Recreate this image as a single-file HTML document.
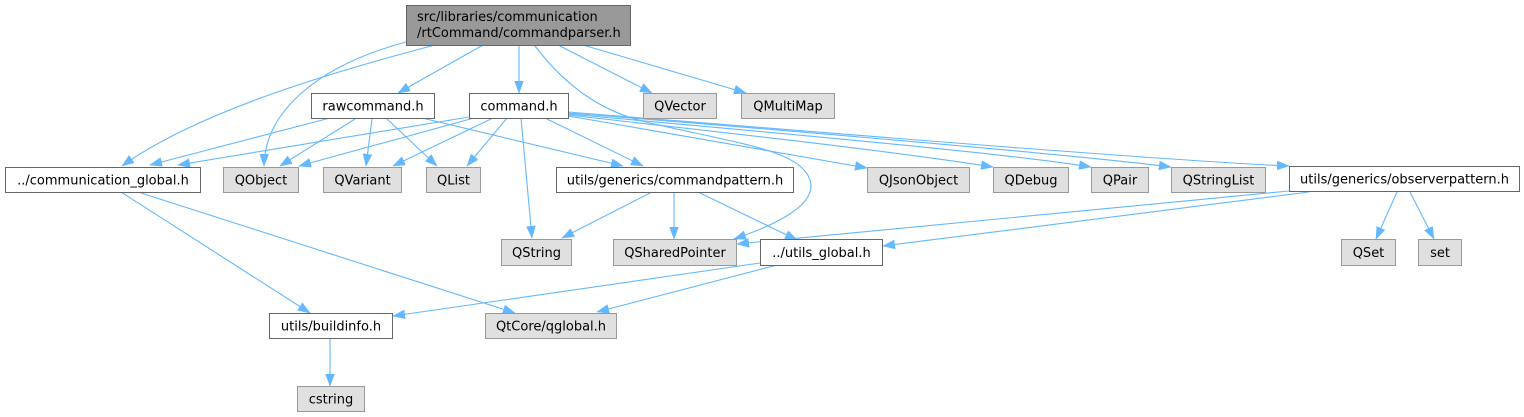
<!DOCTYPE html>
<html><head><meta charset="utf-8">
<style>
html,body{margin:0;padding:0;background:#fff;}
svg{display:block;}
text{font-family:"DejaVu Sans","Liberation Sans",sans-serif;font-size:13px;fill:#000;}
.w{fill:#fff;stroke:#666;stroke-width:1;}
.g{fill:#e0e0e0;stroke:#999;stroke-width:1;}
.r{fill:#999;stroke:#666;stroke-width:1;}
.e{fill:none;stroke:#63b8ff;stroke-width:1.1;marker-end:url(#ah);}
</style></head>
<body>
<svg width="1524" height="417" viewBox="0 0 1524 417" xmlns="http://www.w3.org/2000/svg">
<defs>
<marker id="ah" markerUnits="userSpaceOnUse" markerWidth="13" markerHeight="10" refX="12" refY="4.5" orient="auto">
<path d="M0,0 L12,4.5 L0,9 z" fill="#63b8ff" stroke="#63b8ff" stroke-width="0.5"/>
</marker>
</defs>

<!-- edges -->
<path class="e" d="M483,45 L398,93"/>
<path class="e" d="M519,45 L519,93"/>
<path class="e" d="M558,45 L652,93"/>
<path class="e" d="M583,45 L746,93"/>
<path class="e" d="M435,45 C340,70 200,110 122,166"/>
<path class="e" d="M406,42 C320,65 265,110 264,166"/>
<path class="e" d="M535,46 C565,85 600,112 650,123 C740,144 800,150 810,180 C818,205 775,225 734,239"/>

<path class="e" d="M330,118 L150,165"/>
<path class="e" d="M355,119 L280,166"/>
<path class="e" d="M372,119 L366,166"/>
<path class="e" d="M386,118 L437,166"/>
<path class="e" d="M422,118 L623,166"/>

<path class="e" d="M469,117 L178,165"/>
<path class="e" d="M474,118 L299,166"/>
<path class="e" d="M493,118 L393,166"/>
<path class="e" d="M507,118 L467,166"/>
<path class="e" d="M521,118 L532,238"/>
<path class="e" d="M545,118 L643,166"/>
<path class="e" d="M568,116 C680,135 800,156 867,168"/>
<path class="e" d="M568,115 C720,132 900,152 993,167"/>
<path class="e" d="M568,114 C720,128 1000,152 1091,167"/>
<path class="e" d="M568,113 C720,125 1050,152 1171,167"/>
<path class="e" d="M568,112 C720,124 1150,160 1289,166"/>

<path class="e" d="M652,192 L562,238"/>
<path class="e" d="M674,192 L674,239"/>
<path class="e" d="M698,192 L797,240"/>

<path class="e" d="M1289,191 L737,244"/>
<path class="e" d="M1309,192 L883,246"/>
<path class="e" d="M1397,192 L1376,239"/>
<path class="e" d="M1410,192 L1434,239"/>

<path class="e" d="M121,192 L310,313"/>
<path class="e" d="M138,192 L515,313"/>
<path class="e" d="M760,263 L393,316"/>
<path class="e" d="M777,265 L597,312"/>
<path class="e" d="M330,339 L330,386"/>

<!-- nodes -->
<rect class="r" x="406.5" y="5.5" width="224" height="40"/>
<text x="417" y="21">src/libraries/communication</text>
<text x="417" y="37">/rtCommand/commandparser.h</text>

<rect class="w" x="311.5" y="93.5" width="123" height="25"/>
<text x="373" y="110.5" text-anchor="middle">rawcommand.h</text>
<rect class="w" x="469.5" y="93.5" width="99" height="25"/>
<text x="519" y="110.5" text-anchor="middle">command.h</text>
<rect class="g" x="643.5" y="93.5" width="73" height="25"/>
<text x="680" y="110.5" text-anchor="middle">QVector</text>
<rect class="g" x="741.5" y="93.5" width="93" height="25"/>
<text x="788" y="110.5" text-anchor="middle">QMultiMap</text>

<rect class="w" x="5.5" y="167.5" width="195" height="25"/>
<text x="103" y="184.5" text-anchor="middle">../communication_global.h</text>
<rect class="g" x="223.5" y="167.5" width="75" height="25"/>
<text x="261" y="184.5" text-anchor="middle">QObject</text>
<rect class="g" x="323.5" y="167.5" width="78" height="25"/>
<text x="362.5" y="184.5" text-anchor="middle">QVariant</text>
<rect class="g" x="426.5" y="167.5" width="54" height="25"/>
<text x="453.5" y="184.5" text-anchor="middle">QList</text>
<rect class="w" x="556.5" y="167.5" width="237" height="25"/>
<text x="675" y="184.5" text-anchor="middle">utils/generics/commandpattern.h</text>
<rect class="g" x="867.5" y="167.5" width="102" height="25"/>
<text x="918.5" y="184.5" text-anchor="middle">QJsonObject</text>
<rect class="g" x="993.5" y="167.5" width="75" height="25"/>
<text x="1031" y="184.5" text-anchor="middle">QDebug</text>
<rect class="g" x="1091.5" y="167.5" width="57" height="25"/>
<text x="1120" y="184.5" text-anchor="middle">QPair</text>
<rect class="g" x="1171.5" y="167.5" width="94" height="25"/>
<text x="1218.5" y="184.5" text-anchor="middle">QStringList</text>
<rect class="w" x="1289.5" y="166.5" width="230" height="25"/>
<text x="1404.5" y="183.5" text-anchor="middle">utils/generics/observerpattern.h</text>

<rect class="g" x="501.5" y="239.5" width="70" height="26"/>
<text x="536.5" y="257" text-anchor="middle">QString</text>
<rect class="g" x="613.5" y="239.5" width="123" height="26"/>
<text x="675" y="257" text-anchor="middle">QSharedPointer</text>
<rect class="w" x="760.5" y="239.5" width="122" height="26"/>
<text x="821.5" y="257" text-anchor="middle">../utils_global.h</text>
<rect class="g" x="1341.5" y="239.5" width="54" height="26"/>
<text x="1368.5" y="257" text-anchor="middle">QSet</text>
<rect class="g" x="1418.5" y="239.5" width="43" height="26"/>
<text x="1440" y="257" text-anchor="middle">set</text>

<rect class="w" x="269.5" y="313.5" width="123" height="25"/>
<text x="331" y="330.5" text-anchor="middle">utils/buildinfo.h</text>
<rect class="g" x="485.5" y="313.5" width="131" height="25"/>
<text x="551" y="330.5" text-anchor="middle">QtCore/qglobal.h</text>

<rect class="g" x="297.5" y="386.5" width="67" height="25"/>
<text x="331" y="403.5" text-anchor="middle">cstring</text>
</svg>
</body></html>
